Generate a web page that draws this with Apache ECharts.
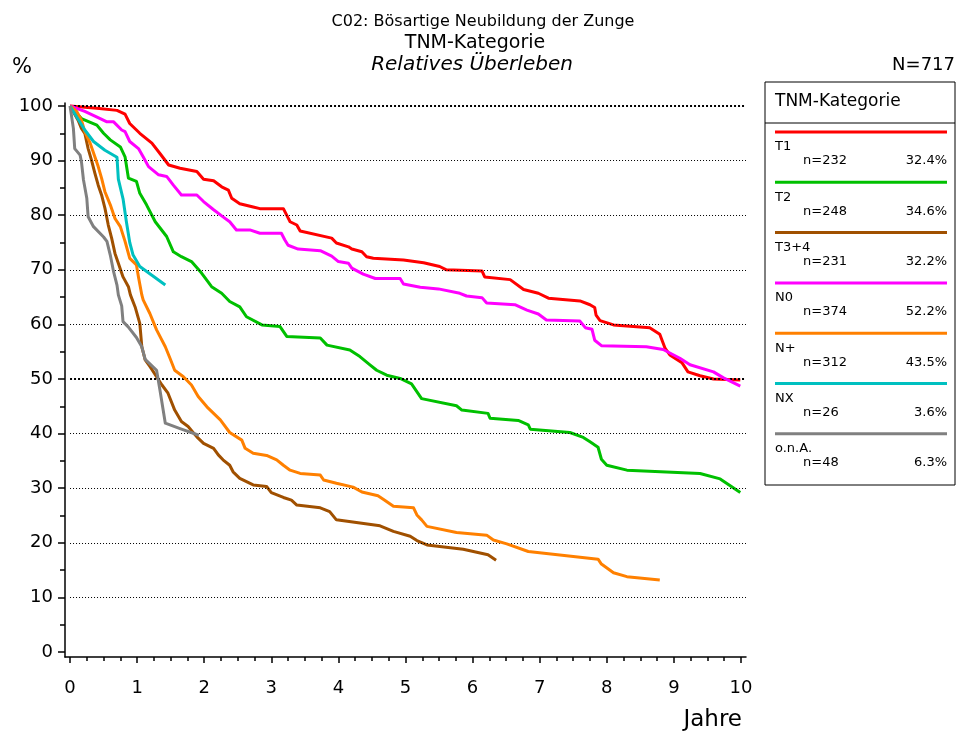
<!DOCTYPE html>
<html>
<head>
<meta charset="utf-8">
<title>C02 Relatives Überleben</title>
<script src="https://cdn.jsdelivr.net/npm/echarts@6/dist/echarts.min.js"></script>
<style>
    html, body { margin: 0; padding: 0; background: #fff; }
    #main { width: 957px; height: 732px; }
</style>
</head>
<body>
<div id="main"></div>
<script>
//Gruppen und Legende
var groupNames = ['T1', 'T2', 'T3+4', 'N0', 'N+', 'NX', 'o.n.A.'];
var groupCounts = [232, 248, 231, 374, 312, 26, 48];
var groupShares = ['32.4%', '34.6%', '32.2%', '52.2%', '43.5%', '3.6%', '6.3%'];
var groupColors = ['#ff0000', '#00c000', '#a05000', '#ff00ff', '#ff8000', '#00c0c0', '#808080'];

//Achsen
var xTicks = [0, 1, 2, 3, 4, 5, 6, 7, 8, 9, 10];
var yTicks = [0, 10, 20, 30, 40, 50, 60, 70, 80, 90, 100];

//Kurven [Jahre, %]
var t1Data = [[0, 100], [0.40, 99.6], [0.70, 99.2], [0.82, 98.5], [0.89, 96.8], [1.04, 95.0], [1.22, 93.2], [1.34, 91.3], [1.47, 89.2], [1.64, 88.6], [1.89, 88.0], [1.99, 86.6], [2.14, 86.3], [2.26, 85.2], [2.36, 84.6], [2.41, 83.1], [2.53, 82.1], [2.73, 81.5], [2.83, 81.2], [3.18, 81.2], [3.25, 79.5], [3.28, 78.8], [3.38, 78.2], [3.43, 77.1], [3.90, 75.8], [3.97, 74.9], [4.15, 74.2], [4.20, 73.8], [4.35, 73.3], [4.42, 72.4], [4.52, 72.1], [4.97, 71.8], [5.27, 71.3], [5.51, 70.6], [5.61, 70.0], [6.14, 69.8], [6.18, 68.7], [6.56, 68.2], [6.76, 66.4], [6.98, 65.7], [7.13, 64.8], [7.60, 64.3], [7.75, 63.6], [7.82, 63.1], [7.84, 61.7], [7.90, 60.7], [8.10, 59.9], [8.64, 59.4], [8.79, 58.2], [8.87, 55.6], [8.94, 54.4], [9.12, 53.0], [9.21, 51.3], [9.39, 50.6], [9.59, 50.0], [9.99, 49.8]];
var t2Data = [[0, 100], [0.17, 97.7], [0.40, 96.5], [0.50, 95.0], [0.60, 93.8], [0.75, 92.5], [0.82, 90.7], [0.87, 86.8], [0.99, 86.2], [1.04, 84.0], [1.14, 81.9], [1.27, 78.8], [1.44, 76.1], [1.54, 73.3], [1.66, 72.4], [1.81, 71.5], [1.96, 69.4], [2.11, 66.9], [2.26, 65.7], [2.38, 64.2], [2.53, 63.2], [2.63, 61.4], [2.86, 59.9], [3.13, 59.6], [3.23, 57.8], [3.73, 57.5], [3.83, 56.2], [4.17, 55.3], [4.32, 54.1], [4.47, 52.6], [4.57, 51.6], [4.72, 50.7], [4.92, 50.1], [5.09, 49.1], [5.24, 46.4], [5.76, 45.1], [5.84, 44.3], [6.23, 43.7], [6.26, 42.8], [6.68, 42.4], [6.83, 41.6], [6.86, 40.8], [7.45, 40.2], [7.65, 39.3], [7.75, 38.5], [7.87, 37.5], [7.92, 35.3], [8.00, 34.2], [8.30, 33.3], [9.39, 32.7], [9.69, 31.7], [9.99, 29.2]];
var t34Data = [[0, 100], [0.12, 97.4], [0.17, 95.9], [0.22, 95.0], [0.27, 92.2], [0.32, 90.1], [0.37, 87.7], [0.42, 85.5], [0.47, 83.7], [0.52, 81.3], [0.57, 78.2], [0.62, 75.8], [0.67, 73.0], [0.72, 71.2], [0.79, 68.7], [0.87, 66.9], [0.90, 65.4], [0.97, 63.2], [1.04, 60.2], [1.07, 55.9], [1.12, 53.5], [1.19, 52.3], [1.29, 50.4], [1.37, 48.9], [1.46, 47.4], [1.56, 44.3], [1.66, 42.2], [1.76, 41.3], [1.89, 39.4], [1.99, 38.2], [2.14, 37.3], [2.21, 36.1], [2.28, 35.2], [2.38, 34.2], [2.43, 33.0], [2.53, 31.8], [2.73, 30.6], [2.93, 30.3], [3.00, 29.2], [3.18, 28.3], [3.30, 27.8], [3.38, 26.9], [3.73, 26.4], [3.87, 25.7], [3.97, 24.2], [4.62, 23.1], [4.82, 22.1], [5.07, 21.2], [5.17, 20.4], [5.32, 19.6], [5.86, 18.8], [6.23, 17.8], [6.35, 16.8]];
var n0Data = [[0, 100], [0.22, 99.0], [0.45, 97.7], [0.55, 97.1], [0.65, 97.1], [0.77, 95.6], [0.82, 95.3], [0.89, 93.5], [1.02, 92.2], [1.09, 90.7], [1.17, 88.9], [1.32, 87.4], [1.44, 87.1], [1.54, 85.5], [1.66, 83.7], [1.89, 83.7], [1.99, 82.5], [2.14, 81.0], [2.28, 79.7], [2.38, 78.8], [2.48, 77.3], [2.68, 77.3], [2.83, 76.7], [3.15, 76.7], [3.20, 75.5], [3.25, 74.5], [3.40, 73.8], [3.73, 73.5], [3.90, 72.5], [4.00, 71.5], [4.15, 71.2], [4.20, 70.3], [4.37, 69.2], [4.55, 68.4], [4.92, 68.4], [4.97, 67.4], [5.22, 66.8], [5.49, 66.5], [5.81, 65.7], [5.91, 65.2], [6.14, 64.9], [6.21, 63.9], [6.63, 63.6], [6.81, 62.6], [6.98, 61.9], [7.10, 60.8], [7.60, 60.6], [7.68, 59.4], [7.78, 59.1], [7.82, 57.1], [7.92, 56.1], [8.59, 55.9], [8.84, 55.4], [9.09, 53.8], [9.24, 52.6], [9.59, 51.3], [9.74, 50.2], [9.99, 48.7]];
var nPlusData = [[0, 100], [0.10, 99.0], [0.17, 97.4], [0.22, 95.3], [0.30, 93.2], [0.37, 90.7], [0.42, 88.9], [0.47, 86.8], [0.52, 84.3], [0.60, 81.9], [0.67, 79.4], [0.75, 77.9], [0.82, 75.2], [0.89, 72.1], [0.99, 70.9], [1.02, 68.7], [1.07, 65.4], [1.09, 64.5], [1.19, 62.0], [1.29, 59.0], [1.42, 55.9], [1.49, 53.8], [1.56, 51.6], [1.69, 50.4], [1.81, 48.9], [1.91, 46.8], [2.04, 44.9], [2.14, 43.7], [2.24, 42.5], [2.38, 40.2], [2.56, 38.8], [2.61, 37.3], [2.73, 36.4], [2.93, 36.0], [3.08, 35.2], [3.18, 34.2], [3.28, 33.3], [3.43, 32.7], [3.73, 32.4], [3.78, 31.5], [3.97, 30.9], [4.22, 30.2], [4.35, 29.3], [4.59, 28.6], [4.69, 27.8], [4.82, 26.7], [5.12, 26.4], [5.17, 25.1], [5.24, 24.2], [5.32, 23.0], [5.76, 21.9], [6.21, 21.4], [6.31, 20.5], [6.51, 19.8], [6.83, 18.4], [7.87, 17.0], [7.92, 16.1], [8.10, 14.5], [8.30, 13.8], [8.79, 13.2]];
var nxData = [[0, 100], [0.10, 98.0], [0.22, 95.6], [0.35, 93.5], [0.52, 91.9], [0.70, 90.6], [0.72, 86.6], [0.79, 83.0], [0.84, 78.8], [0.89, 75.0], [0.94, 72.7], [1.04, 70.6], [1.22, 69.0], [1.42, 67.2]];
var onaData = [[0, 100], [0.05, 95.9], [0.07, 92.2], [0.15, 91.0], [0.17, 89.8], [0.20, 86.5], [0.25, 83.1], [0.27, 79.7], [0.35, 77.9], [0.50, 76.0], [0.55, 75.2], [0.60, 72.7], [0.65, 69.6], [0.70, 67.2], [0.72, 65.4], [0.77, 63.4], [0.79, 60.5], [0.87, 59.5], [0.99, 57.6], [1.07, 55.9], [1.12, 53.6], [1.29, 51.6], [1.34, 48.0], [1.42, 41.9], [1.64, 40.9], [1.92, 39.7]];

var groupData = [t1Data, t2Data, t34Data, n0Data, nPlusData, nxData, onaData];

var FONT = 'DejaVu Sans';

var chart = echarts.init(document.getElementById('main'), null, { renderer: 'canvas' });

//Zwischenstriche
var xMinor = [], yMinor = [];
for (var i = 0; i < 40; i++) { if (i % 4) xMinor.push(i / 4); }
for (var j = 5; j < 100; j += 10) yMinor.push(j);

//Gitterlinien (gepunktet)
var gridLines = yTicks.filter(function (v) { return v > 0; }).map(function (v) {
    var bold = v % 50 === 0;
    return [
        { coord: [0, v], lineStyle: { width: bold ? 2 : 1, type: bold ? [2, 2] : [1, 2] } },
        { coord: [10.075, v] }
    ];
});

var series = [{
    type: 'line'
    , data: [[0, 100]]
    , showSymbol: false
    , lineStyle: { opacity: 0 }
    , z: 1
    , silent: true
    , markLine: {
        silent: true
        , symbol: ['none', 'none']
        , label: { show: false }
        , animation: false
        , lineStyle: { color: '#000' }
        , data: gridLines
    }
}];

groupNames.forEach(function (name, k) {
    series.push({
        name: name
        , type: 'line'
        , data: groupData[k]
        , showSymbol: false
        , z: 2 + k
        , lineStyle: { color: groupColors[k], width: 3, join: 'round' }
        , itemStyle: { color: groupColors[k] }
    });
});

//Legende
var legendItems = [
    { type: 'rect', shape: { x: 765, y: 82, width: 190, height: 403 }, style: { fill: '#fff', stroke: '#000', lineWidth: 1 } }
    , { type: 'line', shape: { x1: 765, y1: 123, x2: 955, y2: 123 }, style: { stroke: '#000', lineWidth: 1 } }
    , { type: 'text', x: 775, y: 102, style: { text: 'TNM-Kategorie', font: '17px ' + FONT, fill: '#000', textVerticalAlign: 'middle' } }
];
groupNames.forEach(function (name, k) {
    var ly = 132 + k * 50.3;
    legendItems.push(
        { type: 'line', shape: { x1: 775, y1: ly, x2: 947, y2: ly }, style: { stroke: groupColors[k], lineWidth: 3 } }
        , { type: 'text', x: 775, y: ly + 15, style: { text: name, font: '13px ' + FONT, fill: '#000', textVerticalAlign: 'middle' } }
        , { type: 'text', x: 803, y: ly + 29, style: { text: 'n=' + groupCounts[k], font: '13px ' + FONT, fill: '#000', textVerticalAlign: 'middle' } }
        , { type: 'text', x: 947, y: ly + 29, style: { text: groupShares[k], font: '13px ' + FONT, fill: '#000', textAlign: 'right', textVerticalAlign: 'middle' } }
    );
});

//Titel
var titleItems = [
    { type: 'text', x: 483, y: 22, style: { text: 'C02: Bösartige Neubildung der Zunge', font: '16px ' + FONT, fill: '#000', textAlign: 'center', textVerticalAlign: 'middle' } }
    , { type: 'text', x: 475, y: 43, style: { text: 'TNM-Kategorie', font: '19px ' + FONT, fill: '#000', textAlign: 'center', textVerticalAlign: 'middle' } }
    , { type: 'text', x: 472, y: 65, style: { text: 'Relatives Überleben', font: 'italic 20px ' + FONT, fill: '#000', textAlign: 'center', textVerticalAlign: 'middle' } }
    , { type: 'text', x: 22, y: 68, style: { text: '%', font: '21px ' + FONT, fill: '#000', textAlign: 'center', textVerticalAlign: 'middle' } }
    , { type: 'text', x: 955, y: 65, style: { text: 'N=717', font: '18px ' + FONT, fill: '#000', textAlign: 'right', textVerticalAlign: 'middle' } }
    , { type: 'text', x: 742, y: 720, style: { text: 'Jahre', font: '23px ' + FONT, fill: '#000', textAlign: 'right', textVerticalAlign: 'middle' } }
];

var axisBlack = { color: '#000', width: 1.5 };

var option = {
    animation: false
    , backgroundColor: '#fff'
    , textStyle: { fontFamily: FONT }
    , grid: { left: 65, top: 103, width: 681, height: 554, containLabel: false }
    , xAxis: [{
        type: 'value'
        , min: -0.075
        , max: 10.075
        , position: 'bottom'
        , axisLine: { show: true, onZero: false, lineStyle: axisBlack }
        , axisTick: { show: true, length: 6, customValues: xTicks, lineStyle: axisBlack }
        , axisLabel: { customValues: xTicks, margin: 22, fontSize: 18, color: '#000', fontFamily: FONT }
        , splitLine: { show: false }
    }, {
        type: 'value'
        , min: -0.075
        , max: 10.075
        , position: 'bottom'
        , axisLine: { show: false, onZero: false }
        , axisTick: { show: true, length: 4, customValues: xMinor, lineStyle: axisBlack }
        , axisLabel: { show: false }
        , splitLine: { show: false }
    }]
    , yAxis: [{
        type: 'value'
        , min: -0.92
        , max: 100.55
        , position: 'left'
        , axisLine: { show: true, onZero: false, lineStyle: axisBlack }
        , axisTick: { show: true, length: 7, customValues: yTicks, lineStyle: axisBlack }
        , axisLabel: { customValues: yTicks, margin: 12, fontSize: 18, color: '#000', fontFamily: FONT }
        , splitLine: { show: false }
    }, {
        type: 'value'
        , min: -0.92
        , max: 100.55
        , position: 'left'
        , axisLine: { show: false, onZero: false }
        , axisTick: { show: true, length: 5, customValues: yMinor, lineStyle: axisBlack }
        , axisLabel: { show: false }
        , splitLine: { show: false }
    }]
    , series: series
    , graphic: titleItems.concat(legendItems)
};

chart.setOption(option);
window.onresize = chart.resize;
</script>
</body>
</html>
